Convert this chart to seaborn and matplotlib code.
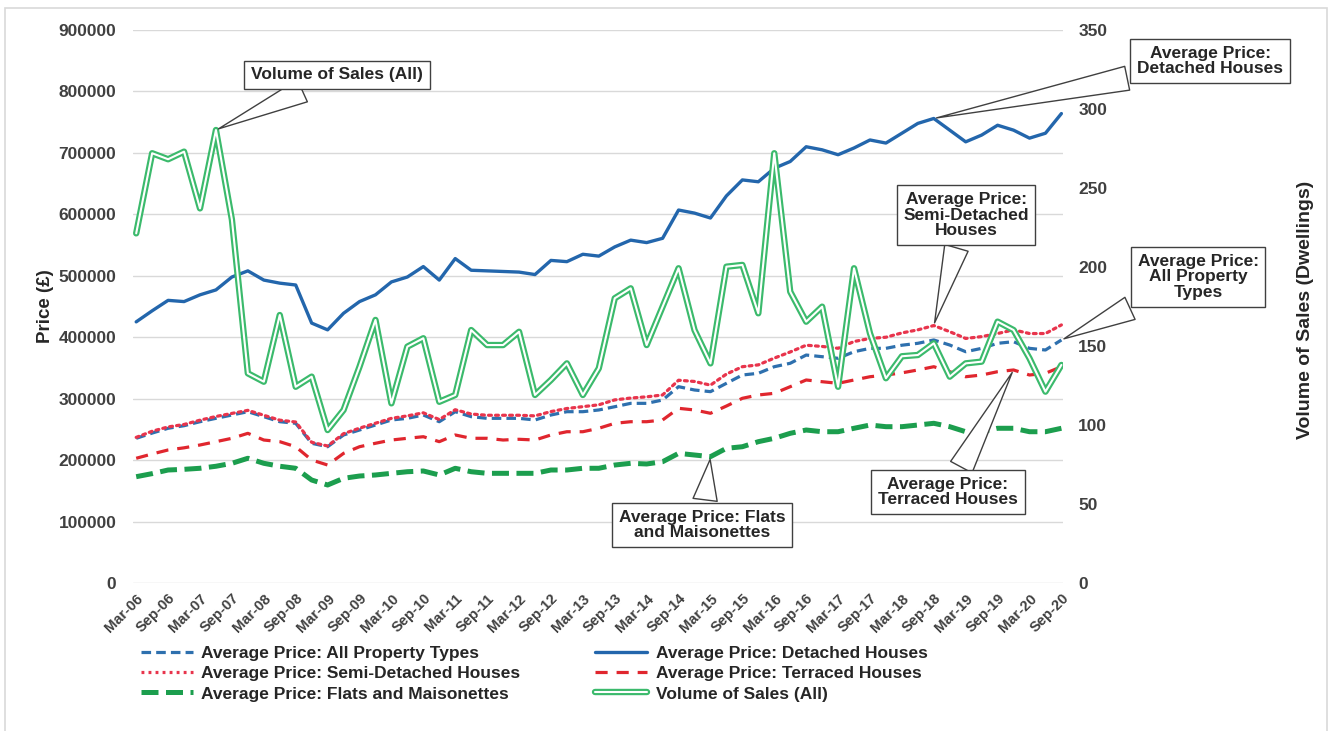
import matplotlib
matplotlib.use("Agg")
import matplotlib.pyplot as plt
import seaborn as sns
import numpy as np
import pandas as pd
from matplotlib.patches import Rectangle
from matplotlib.lines import Line2D

# ---------------- data ----------------
quarters = [f"{m}-{y:02d}" for y in range(6, 21) for m in ["Mar", "Jun", "Sep", "Dec"]][:59]
tick_labels = quarters[::2]

detached = [425, 443, 460, 458, 469, 477, 498, 508, 493, 488,
            485, 423, 412, 439, 458, 469, 490, 498, 515, 493,
            528, 509, 508, 507, 506, 502, 525, 523, 535, 532,
            547, 558, 554, 561, 607, 602, 594, 630, 656, 653,
            675, 686, 710, 705, 697, 708, 721, 716, 732, 748,
            756, 737, 718, 729, 745, 737, 724, 732, 764]
all_types = [235.5, 244, 251.8, 256, 262.5, 268, 273.4, 278.8, 270.7, 262.5,
             259.9, 227.4, 221.8, 240.9, 249, 257.1, 265.3, 268, 273.4, 262.5,
             278.8, 270.7, 268, 268, 268, 265.3, 273.4, 278.8, 278.8, 281.6,
             286.9, 292.4, 292.4, 297.8, 319.5, 314.1, 311.4, 325, 338.5, 341.3,
             352, 357.6, 371, 368.3, 365.7, 376.4, 381.9, 381.9, 387, 390.1,
             395.5, 387.3, 376.4, 381.9, 390.1, 392.7, 381.9, 379.2, 395.5]
semi = [237, 247, 254, 258, 265, 271, 276, 281, 273, 265,
        262, 229, 223, 243, 252, 260, 268, 272, 277, 266,
        282, 275, 273, 273, 273, 272, 279, 284, 287, 290,
        298, 301, 303, 306, 330, 328, 322, 340, 352, 355,
        366, 376, 387, 385, 382, 393, 398, 400, 407, 412,
        419, 409, 398, 401, 406, 412, 406, 406, 420]
terraced = [203, 210, 216.5, 220, 224.6, 230, 235.5, 243.6, 232.7, 230,
            221.8, 200.2, 192, 211, 221.8, 227.4, 232.7, 235.5, 238.1, 230,
            240.9, 235.5, 235.5, 232.7, 233.9, 232.7, 240.9, 246.2, 246.2, 251.8,
            259.9, 262.5, 262.5, 265.3, 284.3, 281.6, 276.2, 288, 300.6, 306,
            308.7, 319.5, 330.4, 327.6, 325, 330.4, 335.7, 338.5, 342, 346.7,
            352, 343.9, 335.7, 338.5, 343.9, 346.7, 338.5, 341.3, 352]
flats = [173, 178, 183.9, 185, 186.7, 190, 194.8, 203, 194.8, 190,
         186.7, 167.6, 159.5, 170.4, 174.1, 175.8, 178.5, 181.1, 182.3, 175.8,
         186.7, 181.1, 178.5, 178.5, 178.5, 178.5, 183.9, 183.9, 186.7, 186.7,
         192, 194.8, 193.7, 197.4, 211, 208.3, 205.6, 219.2, 221.8, 230,
         235.5, 243.6, 249, 246.2, 246.2, 251.8, 257.1, 254.4, 254.4, 257.1,
         259.9, 254.4, 246.2, 246.2, 251.8, 251.8, 246.2, 246.2, 251.8]
volume = [221.3, 272, 268.2, 273, 237.1, 286.7, 230, 132.7, 127.4, 169.6,
          124.2, 130.6, 96.8, 109.5, 136.9, 166.5, 113.7, 149.6, 154.9, 114.7,
          119, 160.1, 150.6, 150.6, 159, 119, 128.5, 139, 119, 135.9,
          180.2, 186.5, 150.6, 174.9, 199.2, 160.1, 139, 200.2, 201.3, 170.7,
          272, 184.4, 165.4, 174.9, 124.2, 199.2, 158, 129.6, 143.5, 144.3,
          151.7, 130.6, 139, 140.1, 165.4, 160.1, 142.2, 121.1, 138]

price_ticks = [0, 100000, 200000, 300000, 400000, 500000, 600000, 700000, 800000, 900000]
volume_ticks = [0, 50, 100, 150, 200, 250, 300, 350]

names = {
    "all": "Average Price: All Property Types",
    "det": "Average Price: Detached Houses",
    "semi": "Average Price: Semi-Detached Houses",
    "ter": "Average Price: Terraced Houses",
    "flat": "Average Price: Flats and Maisonettes",
    "vol": "Volume of Sales (All)",
}

df = pd.DataFrame({
    "idx": np.arange(len(quarters)),
    "det": np.array(detached) * 1000,
    "all": np.array(all_types) * 1000,
    "semi": np.array(semi) * 1000,
    "ter": np.array(terraced) * 1000,
    "flat": np.array(flats) * 1000,
    "vol": volume,
})

# ---------------- style ----------------
sns.set_theme(style="white")
plt.rcParams["font.family"] = ["Liberation Sans", "DejaVu Sans"]
plt.rcParams["font.weight"] = "bold"

W, H = 1331, 731
fig = plt.figure(figsize=(W / 100, H / 100), dpi=100)
fig.patch.set_facecolor("white")
fig.patches.append(Rectangle((5 / W, -0.05), (1327 - 5) / W, 1 - 8 / H + 0.05,
                             transform=fig.transFigure, fill=False,
                             ec="#D9D9D9", lw=1.2))

L, R, T, B = 133, 1063, 30, 583
ax = fig.add_axes([L / W, 1 - B / H, (R - L) / W, (B - T) / H])
ax2 = ax.twinx()

C_BLUE = "#2366AC"
C_BLUE2 = "#2E70AE"
C_RED1 = "#E8344C"
C_RED2 = "#E0262E"
C_GREEN = "#1C9E4E"
C_VOL = "#3BBA6C"

def draw(axis, col, color, lw, ls="-", dashes=None, z=2):
    sns.lineplot(data=df, x="idx", y=col, ax=axis, color=color, linewidth=lw,
                 linestyle=ls, errorbar=None, legend=False, zorder=z)
    line = axis.lines[-1]
    if dashes is not None:
        line.set_dashes(dashes)
    return line

h_flat = draw(ax, "flat", C_GREEN, 3.6, dashes=(3.4, 1.5))
h_ter = draw(ax, "ter", C_RED2, 2.3, dashes=(3.8, 2.8))
h_all = draw(ax, "all", C_BLUE2, 2.3, dashes=(3.0, 1.6))
h_semi = draw(ax, "semi", C_RED1, 2.3, dashes=(0.9, 1.3))
h_det = draw(ax, "det", C_BLUE, 2.4)
h_semi.set_dash_capstyle("round")

h_vol_o = draw(ax2, "vol", C_VOL, 4.6)
h_vol_i = draw(ax2, "vol", "white", 1.5)

# axes formatting
ax.set_xlim(-0.2, 58.1)
ax.set_ylim(0, 900000)
ax2.set_ylim(0, 350)
ax.set_yticks(price_ticks)
ax.set_yticklabels([str(v) for v in price_ticks], fontsize=12.5, fontweight="bold", color="#404040")
ax2.set_yticks(volume_ticks)
ax2.set_yticklabels([str(v) for v in volume_ticks], fontsize=12.5, fontweight="bold", color="#404040")
ax.set_xticks(list(range(0, len(quarters), 2)))
ax.set_xticklabels(tick_labels, rotation=45, ha="right", va="top", rotation_mode="anchor",
                   fontsize=10.5, fontweight="bold", color="#404040")
ax.tick_params(axis="x", length=0, pad=6)
ax.tick_params(axis="y", length=0, pad=12)
ax2.tick_params(axis="y", length=0, pad=11)
ax.grid(axis="y", color="#D9D9D9", lw=1)
ax.grid(axis="x", visible=False)
ax2.grid(False)
for a in (ax, ax2):
    for s in a.spines.values():
        s.set_visible(False)
    a.set_xlabel("")
    a.set_ylabel("")
ax.set_facecolor("none")

fig.text(45 / W, 1 - 306 / H, "Price (£)", rotation=90, ha="center", va="center",
         fontsize=13.5, fontweight="bold", color="#262626")
fig.text(1306 / W, 1 - 310 / H, "Volume of Sales (Dwellings)", rotation=90, ha="center",
         va="center", fontsize=14, fontweight="bold", color="#262626")

# ---------------- callouts ----------------
box = dict(boxstyle="square,pad=0.38", fc="white", ec="#404040", lw=1)
def callout(text, xy, xycoords, pos):
    ax2.annotate(text, xy=xy, xycoords=xycoords,
                 xytext=(pos[0] / W, 1 - pos[1] / H), textcoords="figure fraction",
                 ha="center", va="center", multialignment="center",
                 fontsize=12.5, fontweight="bold", color="#262626", bbox=box,
                 linespacing=1.05,
                 arrowprops=dict(arrowstyle="wedge,tail_width=1.4,shrink_factor=0.5",
                                 fc="white", ec="#404040", lw=1),
                 zorder=10, annotation_clip=False)

callout("Volume of Sales (All)", (5, df["vol"][5]), ax2.transData, (337, 75))
callout("Average Price:\nDetached Houses", (50, df["det"][50]), ax.transData, (1210, 61))
callout("Average Price:\nSemi-Detached\nHouses", (50, df["semi"][50]), ax.transData, (966, 215))
callout("Average Price:\nAll Property\nTypes", (58, df["all"][58]), ax.transData, (1198, 277))
callout("Average Price: Flats\nand Maisonettes", (36, df["flat"][36]), ax.transData, (702, 525))
callout("Average Price:\nTerraced Houses", (55, df["ter"][55]), ax.transData, (948, 492))

# ---------------- legend ----------------
leg_all = Line2D([], [], color=C_BLUE2, lw=2.3, dashes=(3.0, 1.6))
leg_det = Line2D([], [], color=C_BLUE, lw=2.4)
leg_semi = Line2D([], [], color=C_RED1, lw=2.3, dashes=(0.9, 1.3))
leg_ter = Line2D([], [], color=C_RED2, lw=2.3, dashes=(3.8, 2.8))
leg_flat = Line2D([], [], color=C_GREEN, lw=3.6, dashes=(3.4, 1.5))
leg_vol = (Line2D([], [], color=C_VOL, lw=4.6), Line2D([], [], color="white", lw=1.5))
handles = [leg_all, leg_semi, leg_flat, leg_det, leg_ter, leg_vol]
labels = [names["all"], names["semi"], names["flat"], names["det"], names["ter"], names["vol"]]
fig.legend(handles, labels, loc="upper left", bbox_to_anchor=(125 / W, 1 - 630 / H),
           ncol=2, frameon=False, handlelength=3.0, columnspacing=4.3,
           labelspacing=0.3, handletextpad=0.5, labelcolor="#262626",
           prop={"weight": "bold", "size": 12.5})

fig.savefig("out.png", dpi=100, facecolor="white")
